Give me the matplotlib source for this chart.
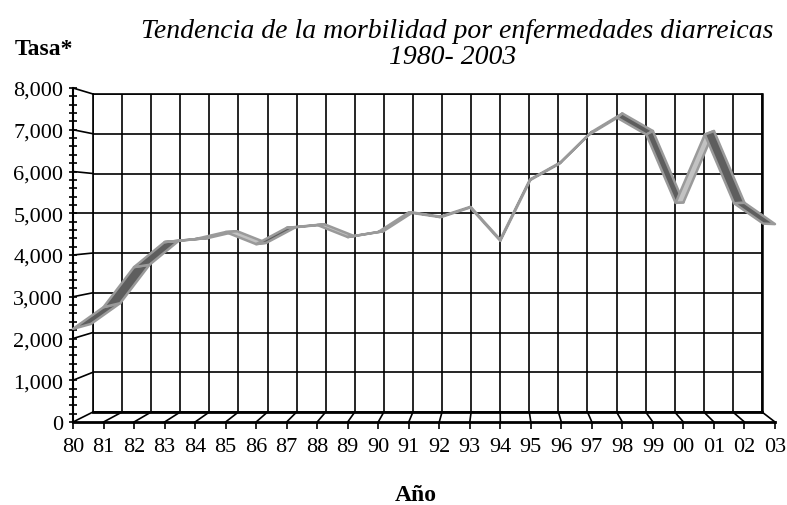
import matplotlib
matplotlib.use("Agg")
import matplotlib.pyplot as plt
from matplotlib.lines import Line2D
from matplotlib.patches import Polygon
from matplotlib.ticker import MultipleLocator, FuncFormatter

# data (tasa per year)
years = ["80", "81", "82", "83", "84", "85", "86", "87", "88", "89", "90", "91",
         "92", "93", "94", "95", "96", "97", "98", "99", "00", "01", "02", "03"]
tasa = [2230, 2750, 3710, 4310, 4380, 4550, 4260, 4650, 4720, 4430, 4550, 5020,
        4910, 5150, 4340, 5820, 6230, 6950, 7390, 6970, 5260, 6970, 5250, 4740]

W, H = 787, 506
fig = plt.figure(figsize=(W / 100, H / 100), dpi=100)
plt.rcParams["font.family"] = ["Liberation Serif", "DejaVu Serif"]


def rect(l, r, t, b):
    return [l / W, (H - b) / H, (r - l) / W, (b - t) / H]


n = len(years)
# back wall (with the grid) and front plane (with the axes)
ax_b = fig.add_axes(rect(93, 762, 95, 413))
ax_f = fig.add_axes(rect(73, 775, 89, 423))
for ax in (ax_b, ax_f):
    ax.set_xlim(0, n - 1)
    ax.set_ylim(0, 8000)

ax_b.set_xticks(range(n))
ax_b.set_yticks(range(0, 8001, 1000))
ax_b.grid(True, color="black", lw=1.2)
ax_b.tick_params(length=0, labelbottom=False, labelleft=False)
for s in ax_b.spines.values():
    s.set_color("black")
    s.set_linewidth(1.2)
ax_b.spines["bottom"].set_linewidth(2)
ax_b.spines["right"].set_linewidth(1.8)

ax_f.patch.set_visible(False)
ax_f.spines["top"].set_visible(False)
ax_f.spines["right"].set_visible(False)
ax_f.spines["left"].set_linewidth(1.5)
ax_f.spines["bottom"].set_linewidth(2)
ax_f.set_xticks(range(n))
ax_f.set_xticklabels(years)
ax_f.yaxis.set_major_locator(MultipleLocator(1000))
ax_f.yaxis.set_minor_locator(MultipleLocator(200))
ax_f.yaxis.set_major_formatter(FuncFormatter(lambda v, p: f"{int(v):,}"))
ax_f.tick_params(axis="y", which="both", direction="inout", length=6, width=1.2,
                 labelsize=16, pad=4)
ax_f.tick_params(axis="x", direction="out", length=5, width=1.2, labelsize=16, pad=6)

inv = fig.transFigure.inverted()


def proj(x, y, t):
    # point at depth t between front plane (0) and back wall (1)
    pf = ax_f.transData.transform((x, y))
    pb = ax_b.transData.transform((x, y))
    return (1 - t) * pf + t * pb


def fline(p, q, **kw):
    a, b = inv.transform(p), inv.transform(q)
    fig.add_artist(Line2D([a[0], b[0]], [a[1], b[1]], color="black", **kw))


# floor and side wall depth lines
for i in range(n):
    fline(proj(i, 0, 0), proj(i, 0, 1), lw=1.2)
for v in range(1000, 8001, 1000):
    fline(proj(0, v, 0), proj(0, v, 1), lw=1.2)

# 3D ribbon
t0, t1 = 0.0, 0.9
for i in range(n - 1):
    a0 = proj(i, tasa[i], t0)
    a1 = proj(i + 1, tasa[i + 1], t0)
    b1 = proj(i + 1, tasa[i + 1], t1)
    b0 = proj(i, tasa[i], t1)
    d = a1 - a0
    e = b0 - a0
    cross = d[0] * e[1] - d[1] * e[0]
    face = "#c2c2c2" if cross > 0 else "#5e5e5e"
    pts = inv.transform([a0, a1, b1, b0])
    fig.add_artist(Polygon(pts, closed=True, facecolor=face, edgecolor="#9a9a9a",
                           lw=1.8, joinstyle="round", zorder=5))

fig.text(457, H - 32, "Tendencia de la morbilidad por enfermedades diarreicas",
         transform=None, ha="center", va="center", fontsize=20, style="italic")
fig.text(453, H - 58, "1980- 2003", transform=None, ha="center", va="center",
         fontsize=20, style="italic")
fig.text(15, H - 50, "Tasa*", transform=None, ha="left", va="center",
         fontsize=17, fontweight="bold")
fig.text(416, H - 496, "Año", transform=None, ha="center", va="center",
         fontsize=17, fontweight="bold")

fig.savefig("out.png", dpi=100)
